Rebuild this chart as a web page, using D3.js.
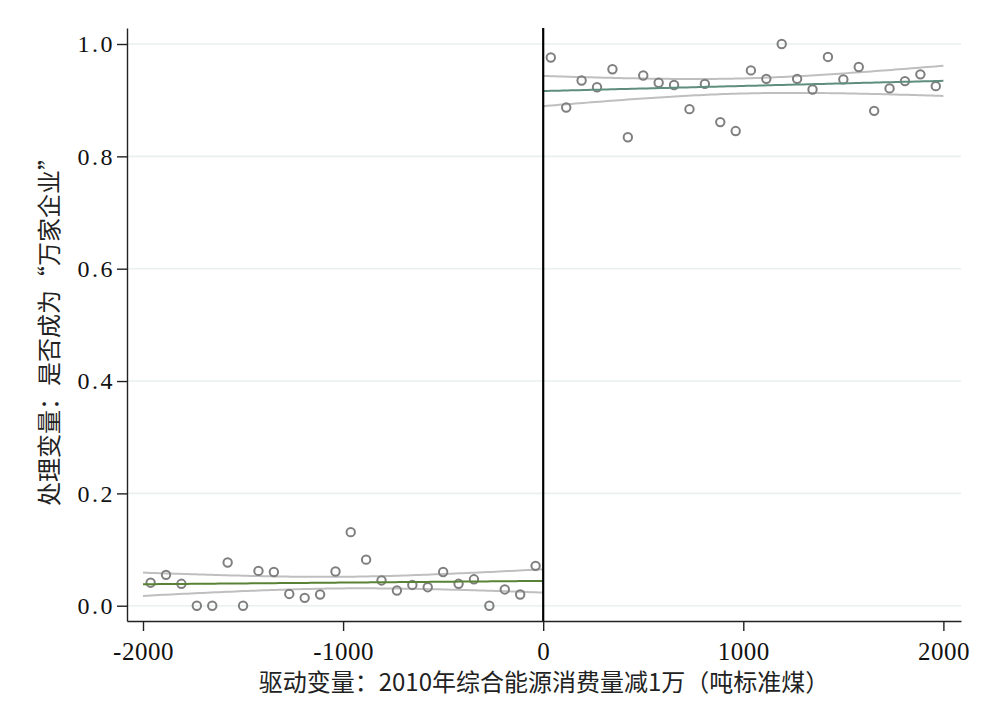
<!DOCTYPE html>
<html>
<head>
<meta charset="utf-8">
<script src="https://cdn.jsdelivr.net/npm/d3@7/dist/d3.min.js"></script>
<style>
  html, body { margin: 0; padding: 0; background: #ffffff; }
  svg { display: block; }
  .tick text { font-family: "Liberation Serif", "DejaVu Serif", serif; }
</style>
</head>
<body>
<svg id="chart" width="985" height="714"></svg>
<script>
// Binned means of the treatment indicator on each side of the cutoff
const leftBinX = [-1962, -1885, -1808, -1731, -1654, -1577, -1500, -1423, -1346, -1269, -1192, -1115, -1038,
                  -962, -885, -808, -731, -654, -577, -500, -423, -346, -269, -192, -115, -38];
const leftBinY = [0.041, 0.055, 0.039, 0.000, 0.000, 0.077, 0.000, 0.062, 0.060, 0.021, 0.014, 0.020, 0.061,
                  0.131, 0.082, 0.045, 0.027, 0.037, 0.033, 0.060, 0.039, 0.047, 0.000, 0.029, 0.020, 0.071];
const rightBinX = [38, 115, 192, 269, 346, 423, 500, 577, 654, 731, 808, 885, 962,
                   1038, 1115, 1192, 1269, 1346, 1423, 1500, 1577, 1654, 1731, 1808, 1885, 1962];
const rightBinY = [0.976, 0.887, 0.935, 0.923, 0.955, 0.834, 0.944, 0.931, 0.927, 0.884, 0.929, 0.861, 0.845,
                   0.953, 0.938, 1.000, 0.938, 0.919, 0.977, 0.937, 0.959, 0.881, 0.921, 0.934, 0.946, 0.925];

const xTicks = [-2000, -1000, 0, 1000, 2000];
const yTicks = [0, 0.2, 0.4, 0.6, 0.8, 1.0];
const leftRange = [-2000, 0];
const rightRange = [0, 2000];
// t critical value (24 df) for the 90% band around each linear fit
const tCrit = 1.711;

const xTitle = "驱动变量：2010年综合能源消费量减1万（吨标准煤）";
const yTitle = "处理变量：是否成为“万家企业”";

const svg = d3.select("#chart");
const plot = { left: 127, right: 961, top: 28, bottom: 621 };

const x = d3.scaleLinear().domain([-2080, 2088]).range([plot.left, plot.right]);
const y = d3.scaleLinear().domain([-0.0272, 1.0285]).range([plot.bottom, plot.top]);

// horizontal grid
svg.append("g")
  .selectAll("line")
  .data(yTicks)
  .join("line")
  .attr("x1", plot.left).attr("x2", plot.right)
  .attr("y1", d => y(d)).attr("y2", d => y(d))
  .attr("stroke", "#e8f0f0").attr("stroke-width", 1.6);

// ordinary least squares with pointwise confidence band
function linearFit(xs, ys) {
  const n = xs.length;
  const xm = d3.mean(xs), ym = d3.mean(ys);
  let sxx = 0, sxy = 0;
  for (let i = 0; i < n; i++) {
    sxx += (xs[i] - xm) ** 2;
    sxy += (xs[i] - xm) * (ys[i] - ym);
  }
  const b = sxy / sxx, a = ym - b * xm;
  let sse = 0;
  for (let i = 0; i < n; i++) sse += (ys[i] - a - b * xs[i]) ** 2;
  const s = Math.sqrt(sse / (n - 2));
  const fit = v => a + b * v;
  const half = v => tCrit * s * Math.sqrt(1 / n + (v - xm) ** 2 / sxx);
  return { fit, half };
}

function drawSide(xs, ys, range, fitColor) {
  const m = linearFit(xs, ys);
  const grid = d3.range(range[0], range[1] + 1, 20);
  const line = d3.line().x(d => x(d[0])).y(d => y(d[1]));

  svg.append("path")
    .attr("d", line(grid.map(v => [v, m.fit(v) + m.half(v)])))
    .attr("fill", "none").attr("stroke", "#bfbfbf").attr("stroke-width", 2);
  svg.append("path")
    .attr("d", line(grid.map(v => [v, m.fit(v) - m.half(v)])))
    .attr("fill", "none").attr("stroke", "#bfbfbf").attr("stroke-width", 2);

  svg.append("g")
    .selectAll("circle")
    .data(xs.map((v, i) => [v, ys[i]]))
    .join("circle")
    .attr("cx", d => x(d[0])).attr("cy", d => y(d[1]))
    .attr("r", 4.2)
    .attr("fill", "none").attr("stroke", "#7f7f7f").attr("stroke-width", 2);

  svg.append("path")
    .attr("d", line(grid.map(v => [v, m.fit(v)])))
    .attr("fill", "none").attr("stroke", fitColor).attr("stroke-width", 2);
}

drawSide(leftBinX, leftBinY, leftRange, "#5a8236");
drawSide(rightBinX, rightBinY, rightRange, "#5f8f7c");

// cutoff
svg.append("line")
  .attr("x1", x(0)).attr("x2", x(0))
  .attr("y1", plot.top).attr("y2", plot.bottom)
  .attr("stroke", "#000").attr("stroke-width", 2.2);

// axes
const xAxis = svg.append("g")
  .attr("transform", `translate(0,${plot.bottom})`)
  .call(d3.axisBottom(x).tickValues(xTicks).tickSize(10).tickSizeOuter(0).tickPadding(11)
        .tickFormat(d => d < 0 ? "-" + Math.abs(d) : String(d)));
xAxis.selectAll("path, line").attr("stroke", "#222").attr("stroke-width", 1.4);
xAxis.selectAll("text").attr("font-size", 25).attr("fill", "#111").attr("letter-spacing", 0.5);

const yAxis = svg.append("g")
  .attr("transform", `translate(${plot.left},0)`)
  .call(d3.axisLeft(y).tickValues(yTicks).tickSize(10).tickSizeOuter(0).tickPadding(2)
        .tickFormat(d3.format(".1f")));
yAxis.selectAll("path, line").attr("stroke", "#222").attr("stroke-width", 1.4);
yAxis.selectAll("text").attr("font-size", 24).attr("fill", "#111").attr("letter-spacing", 2.5);

// axis titles
svg.append("text")
  .attr("x", (plot.left + plot.right) / 2).attr("y", 691)
  .attr("text-anchor", "middle")
  .attr("font-family", "'Noto Sans CJK SC', sans-serif")
  .attr("font-size", 24).attr("fill", "#222")
  .text(xTitle);

svg.append("text")
  .attr("transform", `translate(58,326) rotate(-90)`)
  .attr("text-anchor", "middle")
  .attr("font-family", "'Noto Sans CJK SC', sans-serif")
  .attr("font-size", 24).attr("fill", "#222")
  .text(yTitle);
</script>
</body>
</html>
